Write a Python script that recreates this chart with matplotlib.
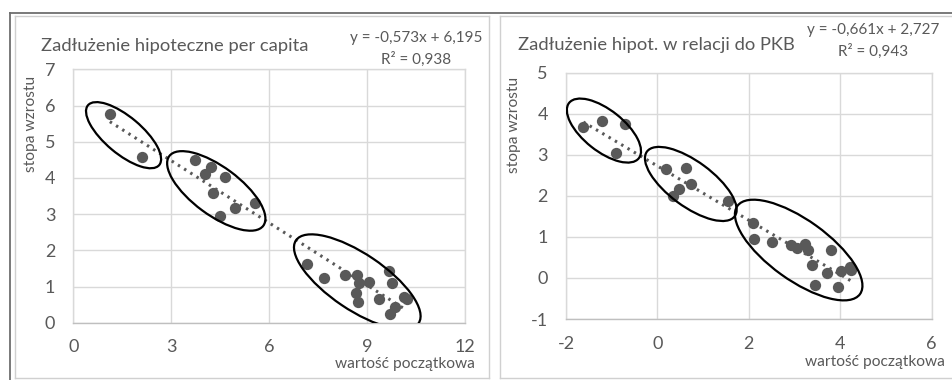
import matplotlib
matplotlib.use("Agg")
import matplotlib.pyplot as plt
from matplotlib.patches import Ellipse
from matplotlib.lines import Line2D
from matplotlib.transforms import ScaledTranslation
import numpy as np

plt.rcParams['font.family'] = ['Lato', 'DejaVu Sans']
plt.rcParams['axes.unicode_minus'] = False

# ---- data: mortgage debt per capita ----
pc_x = [1.12, 2.11, 3.72, 4.23, 4.02, 4.66, 4.27, 5.58, 4.94, 4.48,
        7.17, 7.69, 8.33, 8.70, 8.76, 9.07, 8.65, 8.73, 9.37, 9.68,
        9.75, 10.13, 10.21, 9.86, 9.70]
pc_y = [5.77, 4.59, 4.49, 4.31, 4.11, 4.02, 3.59, 3.32, 3.16, 2.96,
        1.61, 1.23, 1.32, 1.32, 1.09, 1.13, 0.81, 0.58, 0.65, 1.44,
        1.09, 0.72, 0.65, 0.42, 0.24]
pc_slope, pc_intercept, pc_r2 = -0.573, 6.195, 0.938
pc_xticks = [0, 3, 6, 9, 12]
pc_yticks = [0, 1, 2, 3, 4, 5, 6, 7]

# ---- data: mortgage debt relative to GDP ----
gdp_x = [-1.62, -1.21, -0.70, -0.91, 0.18, 0.63, 0.73, 0.47, 0.34, 1.54,
         2.10, 2.11, 2.50, 2.92, 3.05, 3.23, 3.30, 3.80, 3.39, 3.72,
         4.01, 4.21, 4.24, 3.45, 3.96]
gdp_y = [3.67, 3.82, 3.75, 3.05, 2.65, 2.69, 2.28, 2.17, 2.00, 1.87,
         1.33, 0.96, 0.87, 0.80, 0.72, 0.83, 0.68, 0.68, 0.31, 0.13,
         0.17, 0.27, 0.20, -0.17, -0.23]
gdp_slope, gdp_intercept, gdp_r2 = -0.661, 2.727, 0.943
gdp_xticks = [-2, 0, 2, 4, 6]
gdp_yticks = [-1, 0, 1, 2, 3, 4, 5]

# cluster outlines: centre (data units), width/height (pixels), tilt (deg)
pc_groups = [((1.54, 5.18), 93, 37, -40), ((4.38, 3.64), 117, 48, -36.5),
             ((8.70, 1.13), 148, 56, -34)]
gdp_groups = [((-1.17, 3.59), 89, 41, -38.5), ((0.73, 2.29), 109, 45, -36.4),
              ((3.09, 0.68), 151, 60, -35.7)]

W, H = 953, 380
fig = plt.figure(figsize=(W / 100, H / 100), dpi=100)
fig.patch.set_facecolor('white')

TXT = '#595959'
MARK = '#595959'
GRID = '#d9d9d9'


def fpos(x, y):
    return x / W, 1 - y / H


# panel frames
fig.add_artist(Line2D([9.7 / W, 1.0], [1 - 12.7 / H] * 2, color='#6e6e6e', lw=1.3))
fig.add_artist(Line2D([9.7 / W] * 2, [0, 1 - 12.7 / H], color='#6e6e6e', lw=1.3))
for x0, x1 in [(15.5, 489), (499.5, 960)]:
    xs = [x0 / W, x1 / W]
    fig.add_artist(Line2D([x0 / W, x0 / W], [1 - 377.7 / H, 1 - 15.7 / H], color='#d0d0d0', lw=1))
    fig.add_artist(Line2D([x1 / W, x1 / W], [1 - 377.7 / H, 1 - 15.7 / H], color='#d0d0d0', lw=1))
    fig.add_artist(Line2D(xs, [1 - 15.7 / H] * 2, color='#d0d0d0', lw=1))
    fig.add_artist(Line2D(xs, [1 - 377.7 / H] * 2, color='#d0d0d0', lw=1))


def panel(rect, xs, ys, slope, icpt, r2, xticks, yticks, groups,
          title, title_xy, eq_xy, xlab_xy, ylab_xy):
    l, r, t, b = rect
    ax = fig.add_axes([l / W, 1 - b / H, (r - l) / W, (b - t) / H])
    ax.set_xlim(xticks[0], xticks[-1])
    ax.set_ylim(yticks[0], yticks[-1])
    ax.set_xticks(xticks)
    ax.set_yticks(yticks)
    ax.grid(True, color=GRID, lw=1)
    ax.set_axisbelow(True)
    for s in ax.spines.values():
        s.set_color(GRID)
        s.set_linewidth(1)
    ax.spines['bottom'].set_color('#bfbfbf')
    ax.tick_params(length=0, labelsize=13, labelcolor=TXT)
    ax.tick_params(axis='x', pad=12)
    ax.tick_params(axis='y', pad=13)

    ax.scatter(xs, ys, s=66, color=MARK, zorder=3, linewidths=0)
    tx = np.array([min(xs), max(xs)])
    ax.plot(tx, slope * tx + icpt, ls=(0, (0.8, 1.6)), color=MARK, lw=2.2, zorder=2)

    for (cx, cy), w, h, ang in groups:
        tr = fig.dpi_scale_trans + ScaledTranslation(cx, cy, ax.transData)
        e = Ellipse((0, 0), w / 100, h / 100, angle=ang, transform=tr,
                    fill=False, ec='black', lw=1.6, zorder=4)
        ax.add_patch(e)

    fig.text(*fpos(*title_xy), title, fontsize=13.2, color=TXT, ha='left', va='center')
    eq = f"y = {slope:.3f}x + {icpt:.3f}".replace('.', ',')
    fig.text(*fpos(eq_xy[0], eq_xy[1]), eq, fontsize=11, color=TXT, ha='center', va='center')
    fig.text(*fpos(eq_xy[0], eq_xy[1] + 21), f"R² = {r2:.3f}".replace('.', ','),
             fontsize=11, color=TXT, ha='center', va='center')
    fig.text(*fpos(*xlab_xy), 'wartość początkowa', fontsize=11.2, color=TXT,
             ha='right', va='center')
    fig.text(*fpos(*ylab_xy), 'stopa wzrostu', fontsize=11.2, color=TXT,
             ha='center', va='center', rotation=90)
    return ax


panel((73.3, 465, 69.3, 322.7), pc_x, pc_y, pc_slope, pc_intercept, pc_r2,
      pc_xticks, pc_yticks, pc_groups,
      'Zadłużenie hipoteczne per capita', (41.5, 46), (416, 38), (475, 364), (31.5, 124))
panel((566, 931.7, 72.7, 319), gdp_x, gdp_y, gdp_slope, gdp_intercept, gdp_r2,
      gdp_xticks, gdp_yticks, gdp_groups,
      'Zadłużenie hipot. w relacji do PKB', (518, 45), (873, 30), (945, 362), (514, 125))

fig.savefig('out.png', dpi=100, facecolor='white')
